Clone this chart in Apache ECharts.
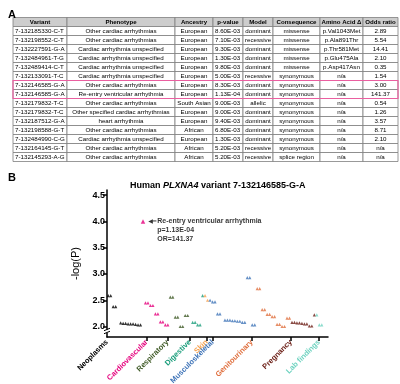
<!DOCTYPE html>
<html>
<head>
<meta charset="utf-8">
<script src="https://cdn.jsdelivr.net/npm/echarts@6/dist/echarts.min.js"></script>
<style>html,body{margin:0;padding:0;background:#fff}#c{width:400px;height:384px}</style>
</head>
<body>
<div id="c"></div>
<script>
// ---------- Table data (panel A) ----------
const tableHeaders = ['Variant','Phenotype','Ancestry','p-value','Model','Consequence','Amino Acid Δ','Odds ratio'];
const variants = ['7-132185330-C-T','7-132198552-C-T','7-132227591-G-A','7-132484961-T-G','7-132489414-C-T','7-132133091-T-C','7-132146585-G-A','7-132146585-G-A','7-132179832-T-C','7-132179832-T-C','7-132187512-G-A','7-132198588-G-T','7-132484990-C-G','7-132164145-G-T','7-132145293-A-G'];
const phenotypes = ['Other cardiac arrhythmias','Other cardiac arrhythmias','Cardiac arrhythmia unspecified','Cardiac arrhythmia unspecified','Cardiac arrhythmia unspecified','Cardiac arrhythmia unspecified','Other cardiac arrhythmias','Re-entry ventricular arrhythmia','Other cardiac arrhythmias','Other specified cardiac arrhythmias','heart arrhythmia','Other cardiac arrhythmias','Cardiac arrhythmia unspecified','Other cardiac arrhythmias','Other cardiac arrhythmias'];
const ancestry = ['European','European','European','European','European','European','European','European','South Asian','European','European','African','European','African','African'];
const pValues = ['8.60E-03','7.10E-03','9.30E-03','1.30E-03','9.80E-03','5.00E-03','8.30E-03','1.13E-04','9.00E-03','9.00E-03','9.40E-03','6.80E-03','1.30E-03','5.20E-03','5.20E-03'];
const models = ['dominant','recessive','dominant','dominant','dominant','recessive','dominant','dominant','allelic','dominant','dominant','dominant','dominant','recessive','recessive'];
const consequences = ['missense','missense','missense','missense','missense','synonymous','synonymous','synonymous','synonymous','synonymous','synonymous','synonymous','synonymous','synonymous','splice region'];
const aminoAcids = ['p.Val1043Met','p.Ala891Thr','p.Thr581Met','p.Glu475Ala','p.Asp417Asn','n/a','n/a','n/a','n/a','n/a','n/a','n/a','n/a','n/a','n/a'];
const oddsRatios = ['2.89','5.54','14.41','2.10','0.35','1.54','3.00','141.37','0.54','1.26','3.57','8.71','2.10','n/a','n/a'];
const highlightedRows = [7, 8]; // rows of the table (header = 0) boxed in pink

// ---------- Scatter data (panel B), -log(P) per phenotype, in plotted order ----------
const groupNames = ['Neoplasms','Cardiovascular','Respiratory','Digestive','Skin','Musculoskeletal','Genitourinary','Pregnancy','Lab findings'];
const neoplasms = [2.59,2.59,2.38,2.38,null,2.07,2.06,2.06,2.05,2.05,2.05,2.04,2.03,2.03];
const cardiovascular = [4.0,2.45,2.45,2.40,2.40,2.24,2.24,2.09,2.09,2.03,2.03];
const respiratory = [2.56,2.56,2.18,2.18,2.00,2.00,2.21,2.21];
const digestive = [null,2.08,2.08,2.03,2.03,2.59];
const skin = [2.59,2.50];
const musculoskeletal = [2.50,2.47,2.47,2.24,2.24,null,2.12,2.12,2.12,2.11,2.11,2.10,2.10,2.08,2.08,2.93,2.93,2.03,2.03];
const genitourinary = [2.72,2.72,2.32,2.32,2.23,2.23,2.19,2.19,2.04,2.04,2.00,2.00,2.16,2.16];
const pregnancy = [2.08,2.08,2.07,2.07,2.06,2.05,2.05,2.01,2.01,2.22];
const labFindings = [2.22,2.03,2.03];
const yTickValues = [2.0,2.5,3.0,3.5,4.0,4.5];
const annotationLines = ['Re-entry ventricular arrhythmia','p=1.13E-04','OR=141.37'];

// ---------- Layout / style (not data) ----------
const groupColors = ['#000000','#e5007d','#3f5a26','#1b9e7c','#f6a04d','#3f74b8','#e0703f','#6b1d14','#6fd3c0'];
const groupStarts = [0,16.0,24.4,33.4,40.2,42.6,58.3,74.1,85.4]; // axis positions of group boundaries
const colEdges = [0,54,162,200,230,260,307,350,385];
const colAlign = ['left','center','center','left','center','center','center','center'];
const FONT = 'Liberation Sans';

const allGroups = [neoplasms,cardiovascular,respiratory,digestive,skin,musculoskeletal,genitourinary,pregnancy,labFindings];

const tableRows = [tableHeaders].concat(variants.map((v,i)=>[v,phenotypes[i],ancestry[i],pValues[i],models[i],consequences[i],aminoAcids[i],oddsRatios[i]]));
const tableCells = [];
tableRows.forEach((row,r)=>row.forEach((_,c)=>tableCells.push([c,r])));

// scatter series
let idx = 0;
const scatterSeries = allGroups.map((vals,g)=>{
  const data = [];
  vals.forEach((v,k)=>{
    if (v !== null) {
      const item = {value:[idx+0.5, v]};
      if (g === 1 && k === 0) {
        item.symbolSize = 4.5;
        item.label = {
          show:true, position:'right', distance:3, offset:[0,9],
          formatter:'{ar|◀━}{t|'+annotationLines[0]+'}\n{sp|}{t|'+annotationLines[1]+'}\n{sp|}{t|'+annotationLines[2]+'}',
          rich:{
            ar:{fontFamily:'DejaVu Sans',fontSize:6,color:'#000',width:9,lineHeight:9},
            sp:{width:9,lineHeight:9},
            t:{fontFamily:FONT,fontSize:7,fontWeight:'bold',color:'#000',lineHeight:9}
          }
        };
      }
      data.push(item);
    }
    idx++;
  });
  return {
    type:'scatter', name:groupNames[g], xAxisIndex:0, yAxisIndex:0,
    symbol:'triangle', symbolSize:3.2, itemStyle:{color:groupColors[g]},
    data:data, z:5
  };
});

const rich = {};
groupColors.forEach((c,i)=>{ rich['g'+i] = {color:c,fontFamily:FONT,fontSize:7.5,fontWeight:'bold'}; });

const chart = echarts.init(document.getElementById('c'), null, {renderer:'canvas'});
const option = {
  animation:false,
  backgroundColor:'#fff',
  textStyle:{fontFamily:FONT},
  title:[
    {text:'A', left:3, top:4, textStyle:{fontSize:11,fontWeight:'bold',color:'#000',fontFamily:FONT}},
    {text:'B', left:3, top:167, textStyle:{fontSize:11,fontWeight:'bold',color:'#000',fontFamily:FONT}},
    {text:'Human {i|PLXNA4} variant 7-132146585-G-A', left:125, top:176,
     textStyle:{fontSize:9,fontWeight:'bold',color:'#000',fontFamily:FONT,
       rich:{i:{fontSize:9,fontWeight:'bold',fontStyle:'italic',color:'#000',fontFamily:FONT}}}}
  ],
  grid:[
    {left:107, top:190, width:221, height:147, containLabel:false, outerBoundsMode:'none'},
    {left:13, top:17.5, width:385, height:144, containLabel:false, outerBoundsMode:'none'}
  ],
  xAxis:[
    {gridIndex:0, type:'value', min:0, max:89,
     axisLine:{show:true,lineStyle:{color:'#000',width:1.5}},
     axisTick:{show:true,customValues:groupStarts.slice(1),length:4,lineStyle:{color:'#000',width:1.5}},
     axisLabel:{show:true,customValues:groupStarts,rotate:45,margin:4,hideOverlap:false,
       formatter:function(v){
         let i = groupStarts.findIndex(s=>Math.abs(s-v)<1e-6);
         if (i<0) return '';
         return '{g'+i+'|'+groupNames[i]+'}';
       }, rich:rich},
     splitLine:{show:false}},
    {gridIndex:1, type:'value', min:0, max:385, show:false}
  ],
  yAxis:[
    {gridIndex:0, type:'value', min:1.8, max:4.6,
     name:'-log(P)', nameLocation:'middle', nameGap:21, nameRotate:90,
     nameTextStyle:{fontSize:11,color:'#000',fontFamily:FONT},
     axisLine:{show:true,lineStyle:{color:'#000',width:1.5}},
     axisTick:{show:true,customValues:yTickValues,length:4,lineStyle:{color:'#000',width:1.5}},
     axisLabel:{show:true,customValues:yTickValues,margin:2,fontSize:9,fontWeight:'bold',color:'#000',
       formatter:v=>Number(v).toFixed(1)},
     splitLine:{show:false}},
    {gridIndex:1, type:'category', data:tableRows.map((_,i)=>i), inverse:true, show:false,
     boundaryGap:true}
  ],
  series: scatterSeries.concat([
    {
      type:'custom', xAxisIndex:1, yAxisIndex:1, data:tableCells, z:1, silent:true,
      renderItem:function(params, api){
        const c = api.value(0), r = api.value(1);
        const p0 = api.coord([colEdges[c], r]);
        const p1 = api.coord([colEdges[c+1], r]);
        const h = api.size([0,1])[1];
        const align = r===0 ? 'center' : colAlign[c];
        const tx = align==='left' ? p0[0]+2 : (p0[0]+p1[0])/2;
        return {type:'group', children:[
          {type:'rect', shape:{x:p0[0], y:p0[1]-h/2, width:p1[0]-p0[0], height:h},
           style:{fill: r===0 ? '#cdcdcd' : '#ffffff', stroke:'#7f7f7f', lineWidth:0.8}},
          {type:'text', style:{text:String(tableRows[r][c]), x:tx, y:p0[1]+0.5,
            align:align, verticalAlign:'middle',
            fontFamily:FONT, fontSize: r===0 ? 6.1 : 6.2, fontWeight: r===0 ? 'bold' : 'normal', fill:'#000'}}
        ]};
      }
    },
    {
      type:'custom', xAxisIndex:1, yAxisIndex:1, data:[[0, highlightedRows[0], highlightedRows[1]]], z:3, silent:true,
      renderItem:function(params, api){
        const a = api.coord([colEdges[0], api.value(1)]);
        const b = api.coord([colEdges[colEdges.length-1], api.value(2)]);
        const h = api.size([0,1])[1];
        return {type:'rect', shape:{x:a[0], y:a[1]-h/2, width:b[0]-a[0], height:b[1]-a[1]+h},
          style:{fill:'none', stroke:'#ea5fa0', lineWidth:1.2}};
      }
    }
  ])
};
chart.setOption(option);

// axis break mark on the y axis (decoration)
const bp = chart.convertToPixel({xAxisIndex:0, yAxisIndex:0}, [0, 1.91]);
chart.setOption({graphic:[
  {type:'rect', shape:{x:bp[0]-2, y:bp[1]-1.5, width:4, height:3}, style:{fill:'#fff'}, z:100},
  {type:'line', shape:{x1:bp[0]-3, y1:bp[1]-0.5, x2:bp[0]+3, y2:bp[1]-3}, style:{stroke:'#000', lineWidth:1}, z:101},
  {type:'line', shape:{x1:bp[0]-3, y1:bp[1]+2.5, x2:bp[0]+3, y2:bp[1]}, style:{stroke:'#000', lineWidth:1}, z:101}
]});
</script>
</body>
</html>
